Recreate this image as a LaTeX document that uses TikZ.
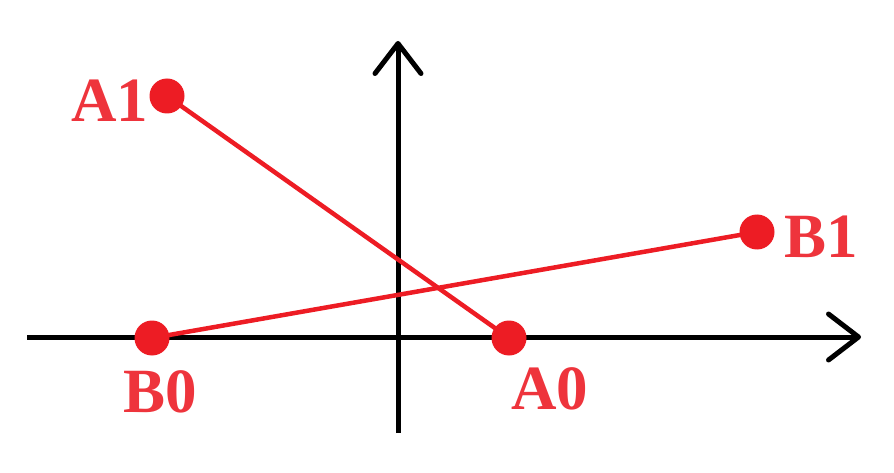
\documentclass[tikz,border=0pt]{standalone}
\usepackage{fontspec}
\setmainfont{Liberation Serif}
\usepackage{xcolor}
\definecolor{ptColor}{RGB}{237, 28, 36}
\definecolor{lblColor}{RGB}{238, 52, 60}
\usetikzlibrary{arrows.meta}
\tikzset{
    pt/.style={circle, fill=ptColor, inner sep=0pt, minimum size=35pt},
    ptlabel/.style={anchor=base, text=lblColor, inner sep=0pt, font=\bfseries\fontsize{63}{63}\selectfont},
    axis/.style={line width=5pt, -{Straight Barb[length=30pt, width=46pt, line width=5pt, round]}}
}
\begin{document}
\begin{tikzpicture}[x=1pt, y=-1pt]
    \useasboundingbox (0,0) rectangle (894,473);
    % axes
    \coordinate (xl) at (27,337);
    \coordinate (xr) at (861,337);
    \coordinate (yb) at (398,433);
    \coordinate (yt) at (398,41);
    \draw[axis] (xl) -- (xr);
    \draw[axis] (yb) -- (yt);
    % points
    \node[pt] (A1) at (167,96) {};
    \node[pt] (A0) at (509,338) {};
    \node[pt] (B0) at (152,338) {};
    \node[pt] (B1) at (757,232) {};
    \draw[ptColor, line width=4.5pt] (A1.center) -- (A0.center);
    \draw[ptColor, line width=4.5pt] (B0.center) -- (B1.center);
    % labels
    \node[ptlabel] (lA1) at (110,122) {A1};
    \node[ptlabel] (lA0) at (550,409) {A0};
    \node[ptlabel] (lB0) at (160,412) {B0};
    \node[ptlabel] (lB1) at (821,258) {B1};
\end{tikzpicture}
\end{document}
